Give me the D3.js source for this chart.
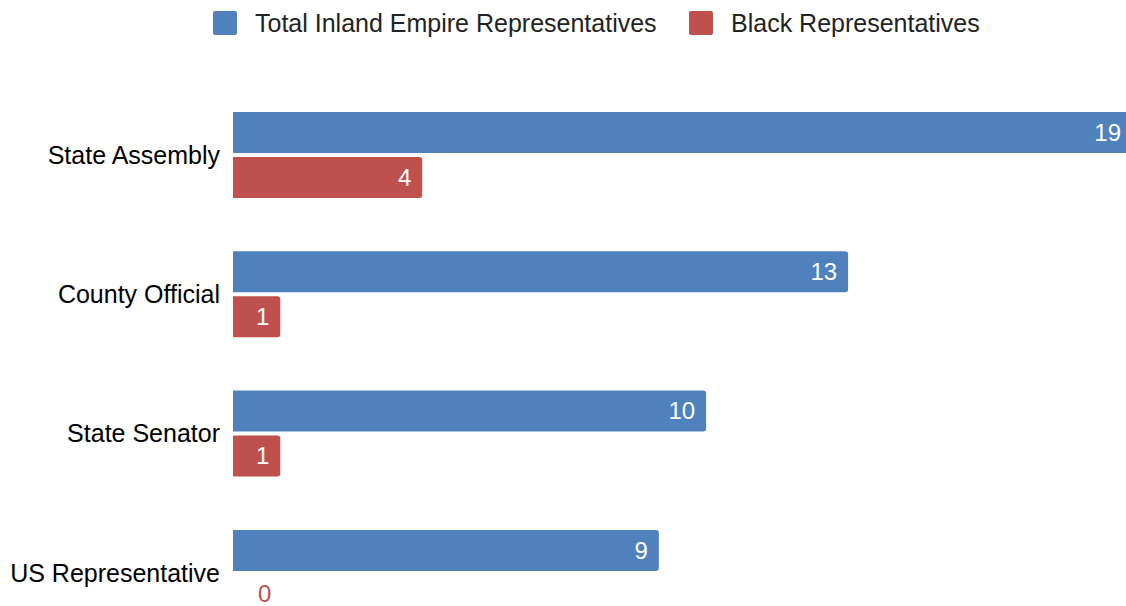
<!DOCTYPE html>
<html>
<head>
<meta charset="utf-8">
<script src="https://cdn.jsdelivr.net/npm/d3@7"></script>
<style>
  html, body { margin: 0; padding: 0; background: #fff; overflow: hidden; }
  svg { display: block; font-family: "Liberation Sans", Arial, Helvetica, sans-serif; }
</style>
</head>
<body>
<svg id="chart" width="1126" height="606"></svg>
<script>
// Office representation in the Inland Empire
const categories = ["State Assembly", "County Official", "State Senator", "US Representative"];
const seriesNames = ["Total Inland Empire Representatives", "Black Representatives"];
const totalReps = [19, 13, 10, 9];
const blackReps = [4, 1, 1, 0];
const seriesColors = ["#4F81BD", "#C0504D"];

const W = 1126, H = 606;
const svg = d3.select("#chart");

const data = categories.map((c, i) => ({
  category: c,
  values: [
    { key: seriesNames[0], value: totalReps[i], idx: 0 },
    { key: seriesNames[1], value: blackReps[i], idx: 1 }
  ]
}));

const x0 = 233;
const x = d3.scaleLinear().domain([0, 19]).range([x0, 1132]);

const y0 = d3.scaleBand().domain(categories).range([112, 112 + 139.3 * 4]).paddingInner(0);
const y1 = d3.scaleBand().domain(seriesNames).range([0, 86]).paddingInner(0.089);
const color = d3.scaleOrdinal().domain(seriesNames).range(seriesColors);

// Bar with rounded right-hand corners
function barPath(xs, ys, w, h, r) {
  if (w <= 0) return "";
  r = Math.min(r, w, h / 2);
  return `M${xs},${ys}H${xs + w - r}A${r},${r} 0 0 1 ${xs + w},${ys + r}` +
         `V${ys + h - r}A${r},${r} 0 0 1 ${xs + w - r},${ys + h}H${xs}Z`;
}

// Legend
const legend = svg.append("g");
const legendX = [213, 689];
seriesNames.forEach((s, i) => {
  legend.append("rect")
    .attr("x", legendX[i]).attr("y", 11)
    .attr("width", 24).attr("height", 24)
    .attr("rx", 2)
    .attr("fill", color(s));
  legend.append("text")
    .attr("x", legendX[i] + 42).attr("y", 23)
    .attr("dy", "0.35em")
    .attr("font-size", 25)
    .attr("fill", "#222")
    .text(s);
});

// Category axis labels, centred on each pair of bars
const yAxis = d3.axisLeft(y0).tickSize(0).tickPadding(13);
const axisG = svg.append("g")
  .attr("transform", `translate(${x0},0)`)
  .call(yAxis);
axisG.select(".domain").remove();
axisG.selectAll(".tick").attr("transform", d => `translate(0,${y0(d) + 43})`);
axisG.selectAll("text")
  .attr("font-size", 25)
  .attr("fill", "#000")
  .attr("font-family", "Liberation Sans, Arial, sans-serif")
  .attr("dy", "0.35em");

// Bars
const groups = svg.append("g").selectAll("g")
  .data(data).join("g")
  .attr("transform", d => `translate(0,${y0(d.category)})`);

groups.selectAll("path")
  .data(d => d.values).join("path")
  .attr("d", d => barPath(x0, y1(d.key), x(d.value) - x0, y1.bandwidth(), 3))
  .attr("fill", d => color(d.key));

// Value labels: inside the bar end, or beside the axis when the bar is empty
groups.selectAll("text.val")
  .data(d => d.values).join("text")
  .attr("class", "val")
  .attr("x", d => d.value > 0 ? x(d.value) - 11 : x0 + 25)
  .attr("y", d => y1(d.key) + y1.bandwidth() / 2 - (d.value > 0 ? 0 : 2))
  .attr("dy", "0.35em")
  .attr("text-anchor", d => d.value > 0 ? "end" : "start")
  .attr("font-size", 24)
  .attr("fill", d => d.value > 0 ? "#fff" : color(d.key))
  .text(d => d.value);
</script>
</body>
</html>
